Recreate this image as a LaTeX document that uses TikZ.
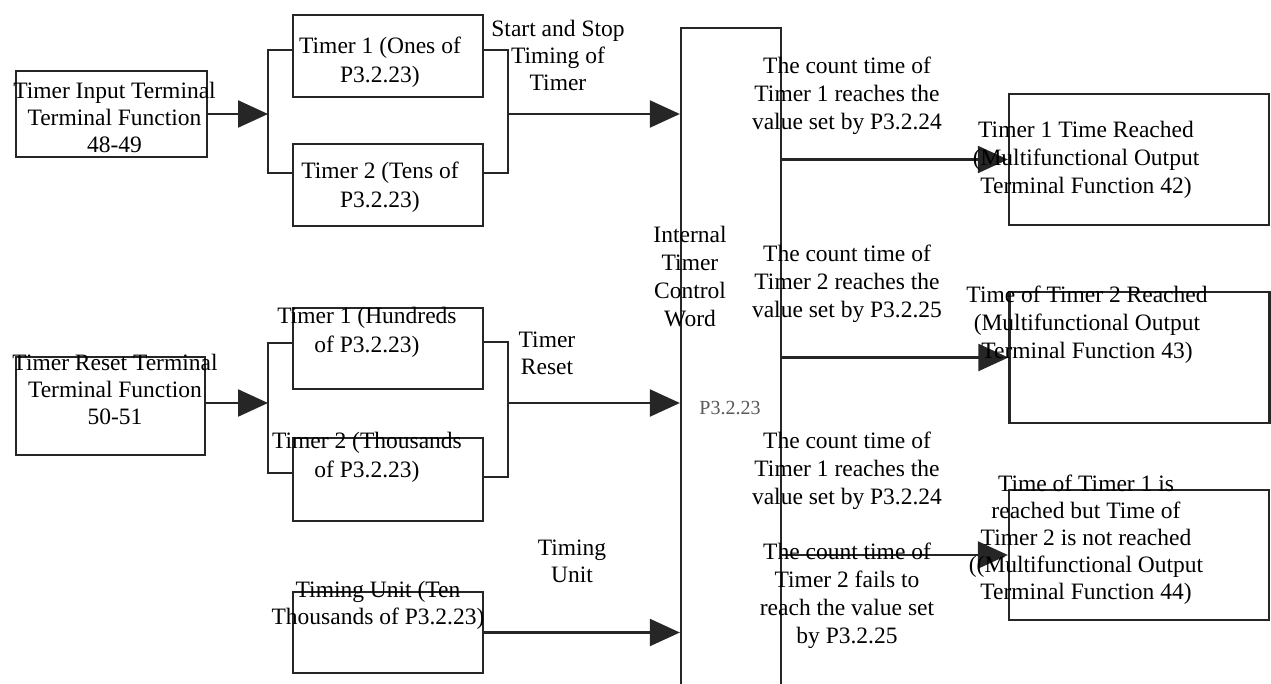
\documentclass[tikz,border=0pt]{standalone}
\usepackage{fontspec}
\setmainfont{Liberation Serif}
\usetikzlibrary{arrows.meta}
\tikzset{
  box/.style={draw=black!85, line width=2.3pt, minimum width=#1, inner sep=0pt},
  txt/.style={font=\fontsize{23.5}{28}\selectfont, align=center, inner sep=0pt},
  txtb/.style={font=\fontsize{23.5}{27}\selectfont, align=center, inner sep=0pt},
  txtw/.style={font=\fontsize{23.5}{29.5}\selectfont, align=center, inner sep=0pt},
  wire/.style={draw=black!85, line width=2.3pt},
  arr/.style={draw=black!85, line width=2.3pt, -{Triangle[length=30pt,width=27pt]}},
}
\begin{document}
\begin{tikzpicture}[x=1pt,y=-1pt]
\useasboundingbox (0,0) rectangle (1271,684);
% boxes
\node[box=191pt, minimum height=86pt] (in1) at (111.5,114) {};
\node[box=189pt, minimum height=98pt] (in2) at (110.5,406) {};
\node[box=190pt, minimum height=82pt] (t1) at (388,56) {};
\node[box=190pt, minimum height=82pt] (t2) at (388,185) {};
\node[box=190pt, minimum height=81pt] (t3) at (388,348.5) {};
\node[box=190pt, minimum height=83pt] (t4) at (388,479.5) {};
\node[box=190pt, minimum height=81pt] (t5) at (388,632.5) {};
\node[box=100pt, minimum height=680pt] (ctrl) at (731,368) {};
\node[box=260pt, minimum height=131pt] (o1) at (1139,159.5) {};
\node[box=260pt, minimum height=131pt] (o2) at (1139.5,357.5) {};
\node[box=260pt, minimum height=130pt] (o3) at (1139,555) {};
% junction coordinates
\coordinate (L1m) at (268,114);
\coordinate (L1a) at (268,50);
\coordinate (L1b) at (268,173);
\coordinate (R1a) at (508,50);
\coordinate (R1b) at (508,173);
\coordinate (R1m) at (508,114);
\coordinate (L2m) at (268,403);
\coordinate (L2a) at (268,343);
\coordinate (L2b) at (268,473);
\coordinate (R2a) at (508,342);
\coordinate (R2b) at (508,477);
\coordinate (R2m) at (508,403);
% group 1
\draw[arr] (in1.east) -- (L1m);
\draw[wire] (L1a -| t1.west) -- (L1a) -- (L1b) -- (L1b -| t2.west);
\draw[wire] (R1a -| t1.east) -- (R1a) -- (R1b) -- (R1b -| t2.east);
\draw[arr] (R1m) -- (R1m -| ctrl.west);
% group 2
\draw[arr] (in2.east |- L2m) -- (L2m);
\draw[wire] (L2a -| t3.west) -- (L2a) -- (L2b) -- (L2b -| t4.west);
\draw[wire] (R2a -| t3.east) -- (R2a) -- (R2b) -- (R2b -| t4.east);
\draw[arr] (R2m) -- (R2m -| ctrl.west);
% timing unit
\draw[arr] (t5.east) -- (t5.east -| ctrl.west);
% outputs
\draw[arr] (o1.west -| ctrl.east) -- (o1.west);
\draw[arr] (o2.west -| ctrl.east) -- (o2.west);
\draw[arr] (o3.west -| ctrl.east) -- (o3.west);
% texts
\node[txtb] (in1t) at (114.5,117) {Timer Input Terminal\\Terminal Function\\48-49};
\node[txtb] (in2t) at (115,389) {Timer Reset Terminal\\Terminal Function\\50-51};
\node[txtw] (t1t) at (380,62) {Timer 1 (Ones of\\P3.2.23)};
\node[txtw] (t2t) at (380,187) {Timer 2 (Tens of\\P3.2.23)};
\node[txtw] (t3t) at (367,332.5) {Timer 1 (Hundreds\\of P3.2.23)};
\node[txtw] (t4t) at (367,457.5) {Timer 2 (Thousands\\of P3.2.23)};
\node[txtb] (t5t) at (378,605) {Timing Unit (Ten\\Thousands of P3.2.23)};
\node[txtb] (lab1) at (558,55) {Start and Stop\\Timing of\\Timer};
\node[txtb] (lab2) at (547,353.5) {Timer\\Reset};
\node[txtb] (lab3) at (572,561.5) {Timing\\Unit};
\node[txt] (ctrlt) at (690,277) {Internal\\Timer\\Control\\Word};
\node[font=\fontsize{20}{24}\selectfont, text=black!65, inner sep=0pt] (ctrlp) at (730,408) {P3.2.23};
\node[txt] (r1) at (847,96) {The count time of\\Timer 1 reaches the\\value set by P3.2.24};
\node[txt] (r2) at (847,284) {The count time of\\Timer 2 reaches the\\value set by P3.2.25};
\node[txt] (r3) at (847,471) {The count time of\\Timer 1 reaches the\\value set by P3.2.24};
\node[txt] (r4) at (847,595.5) {The count time of\\Timer 2 fails to\\reach the value set\\by P3.2.25};
\node[txt] (o1t) at (1086,159.5) {Timer 1 Time Reached\\(Multifunctional Output\\Terminal Function 42)};
\node[txt] (o2t) at (1087,325) {Time of Timer 2 Reached\\(Multifunctional Output\\Terminal Function 43)};
\node[txtb] (o3t) at (1086,540) {Time of Timer 1 is\\reached but Time of\\Timer 2 is not reached\\((Multifunctional Output\\Terminal Function 44)};
\end{tikzpicture}
\end{document}
